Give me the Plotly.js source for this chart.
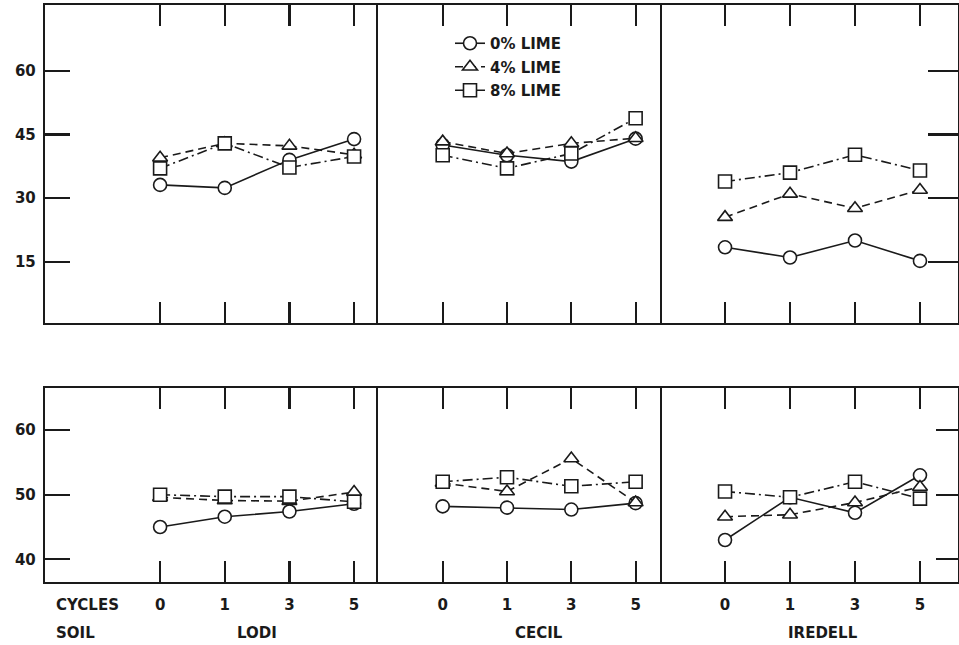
<!DOCTYPE html>
<html>
<head>
<meta charset="utf-8">
<script src="https://cdn.plot.ly/plotly-3.0.1.min.js"></script>
<style>html,body{margin:0;padding:0;background:#fff;}#chart{width:959px;height:645px;}</style>
</head>
<body>
<div id="chart"></div>
<script>
// ---- data ----
const cycles = ['0', '1', '3', '5'];
const soils = ['LODI', 'CECIL', 'IREDELL'];
const limeLabels = ['0% LIME', '4% LIME', '8% LIME'];
const topTicks = [15, 30, 45, 60];
const bottomTicks = [40, 50, 60];

// upper row
const topLodi0 = [33.1, 32.4, 39.0, 43.9];
const topLodi4 = [39.5, 42.9, 42.3, 40.2];
const topLodi8 = [37.0, 42.9, 37.2, 39.8];
const topCecil0 = [42.5, 40.1, 38.6, 44.0];
const topCecil4 = [43.3, 40.5, 42.9, 44.1];
const topCecil8 = [40.1, 37.0, 40.5, 48.8];
const topIredell0 = [18.4, 16.0, 20.0, 15.2];
const topIredell4 = [25.5, 31.0, 27.6, 31.9];
const topIredell8 = [33.9, 36.0, 40.2, 36.5];

// lower row
const botLodi0 = [45.0, 46.6, 47.4, 48.6];
const botLodi4 = [49.6, 49.1, 49.0, 50.4];
const botLodi8 = [50.0, 49.7, 49.7, 48.9];
const botCecil0 = [48.2, 48.0, 47.7, 48.7];
const botCecil4 = [51.8, 50.5, 55.6, 48.8];
const botCecil8 = [52.0, 52.7, 51.3, 52.0];
const botIredell0 = [43.0, 49.6, 47.2, 53.0];
const botIredell4 = [46.6, 46.9, 48.8, 51.2];
const botIredell8 = [50.5, 49.6, 52.0, 49.4];

// ---- styling ----
const INK = '#1a1a1a';
const FONT = {family: 'DejaVu Sans', size: 15, color: INK, weight: 'bold'};
const symbols = ['circle', 'triangle-up', 'square'];
const dashes = ['solid', '8px,5px', '10px,4px,2px,4px'];

const panels = [
  {sets: [topLodi0, topLodi4, topLodi8], ax: ''},
  {sets: [topCecil0, topCecil4, topCecil8], ax: '2'},
  {sets: [topIredell0, topIredell4, topIredell8], ax: '3'},
  {sets: [botLodi0, botLodi4, botLodi8], ax: '4'},
  {sets: [botCecil0, botCecil4, botCecil8], ax: '5'},
  {sets: [botIredell0, botIredell4, botIredell8], ax: '6'}
];

const traces = [];
panels.forEach((p, pi) => {
  p.sets.forEach((vals, si) => {
    traces.push({
      type: 'scatter', mode: 'lines+markers',
      x: cycles, y: vals,
      xaxis: 'x' + p.ax, yaxis: 'y' + p.ax,
      name: limeLabels[si], legendgroup: 'g' + si,
      showlegend: pi === 0,
      line: {color: INK, width: 1.6, dash: dashes[si]},
      marker: {symbol: symbols[si], size: 13, color: '#fff', line: {color: INK, width: 1.6}},
      cliponaxis: false
    });
  });
});

const W = 959, H = 645;
const colX = [[45, 378], [378, 662], [662, 958]];
const xRanges = [[-1.78, 3.37], [-1.006, 3.41], [-0.97, 3.585]];
const rowY = [[5, 323], [388, 582]];
const yRanges = [[0.56, 75.5], [36.5, 66.5]];

function xdom(c) { return [colX[c][0] / W, colX[c][1] / W]; }
function ydom(r) { return [1 - rowY[r][1] / H, 1 - rowY[r][0] / H]; }

const layout = {
  width: W, height: H,
  margin: {l: 0, r: 0, t: 0, b: 0},
  paper_bgcolor: '#fff', plot_bgcolor: '#fff',
  font: FONT,
  showlegend: true,
  legend: {
    x: 450 / W, xanchor: 'left', y: 1 - 27 / H, yanchor: 'top',
    bgcolor: 'rgba(0,0,0,0)', borderwidth: 0,
    font: {family: 'DejaVu Sans', size: 15, color: INK, weight: 'bold'},
    tracegroupgap: 1
  },
  annotations: [
    {text: 'CYCLES', xref: 'paper', yref: 'paper', x: 54 / W, y: 1 - 605 / H, xanchor: 'left', yanchor: 'middle', showarrow: false, font: FONT},
    {text: 'SOIL', xref: 'paper', yref: 'paper', x: 54 / W, y: 1 - 633 / H, xanchor: 'left', yanchor: 'middle', showarrow: false, font: FONT}
  ]
};

for (let r = 0; r < 2; r++) {
  for (let c = 0; c < 3; c++) {
    const idx = r * 3 + c + 1;
    const key = idx === 1 ? '' : String(idx);
    layout['xaxis' + key] = {
      type: 'category', categoryorder: 'array', categoryarray: cycles,
      domain: xdom(c), range: xRanges[c], anchor: 'y' + key,
      showline: true, mirror: 'ticks', linecolor: INK, linewidth: 2.2,
      ticks: 'inside', ticklen: 21, tickwidth: 2.2, tickcolor: INK,
      showgrid: false, zeroline: false,
      showticklabels: r === 1, tickfont: FONT, ticklabelstandoff: 8,
      fixedrange: true
    };
    const yax = {
      domain: ydom(r), range: yRanges[r], anchor: 'x' + key,
      showline: true, mirror: false, linecolor: INK, linewidth: 2.2,
      showgrid: false, zeroline: false,
      tickmode: 'array', tickvals: r === 0 ? topTicks : bottomTicks,
      ticks: '', showticklabels: false, tickfont: FONT,
      fixedrange: true
    };
    if (c === 0) {
      yax.ticks = 'inside'; yax.ticklen = 25; yax.tickwidth = 2.2; yax.tickcolor = INK;
      yax.showticklabels = true; yax.ticklabelstandoff = 4;
    } else if (c === 2) {
      yax.side = 'right'; yax.mirror = true;
      yax.ticks = 'inside'; yax.ticklen = r === 0 ? 30 : 22; yax.tickwidth = 2.2; yax.tickcolor = INK;
    }
    layout['yaxis' + key] = yax;
  }
}

soils.forEach((s, i) => {
  const key = String(i + 4);
  layout.annotations.push({
    text: s, xref: 'x' + key, yref: 'paper', x: 1.5, y: 1 - 633 / H,
    xanchor: 'center', yanchor: 'middle', showarrow: false, font: FONT
  });
});

Plotly.newPlot('chart', traces, layout, {staticPlot: true, displayModeBar: false});
</script>
</body>
</html>
